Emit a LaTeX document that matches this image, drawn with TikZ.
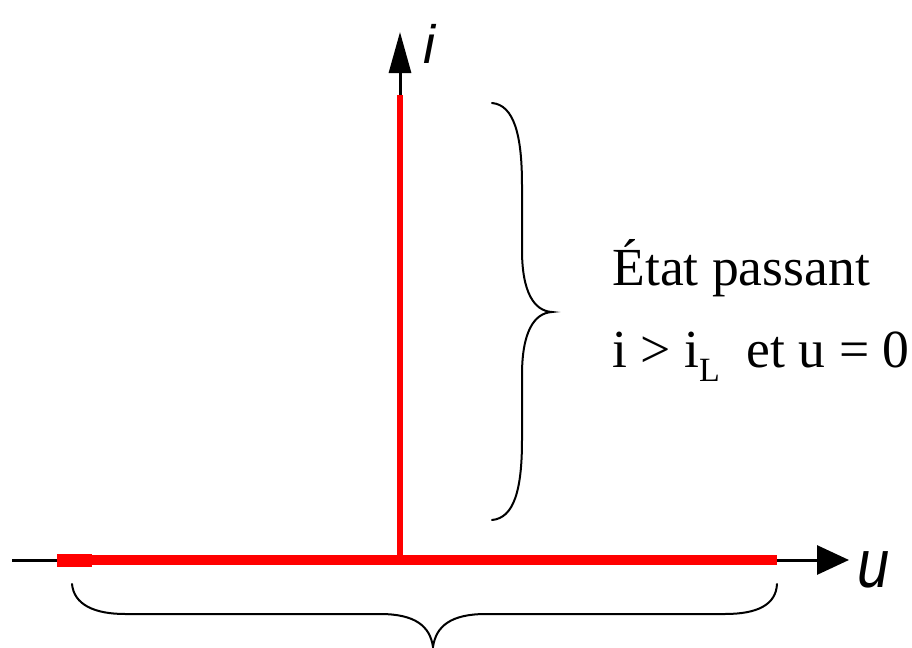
\documentclass[tikz,border=0pt]{standalone}
\usepackage{fontspec}
\setmainfont{Liberation Serif}
\newfontfamily\axisfont{Liberation Sans}
\usetikzlibrary{arrows.meta}
\definecolor{redline}{RGB}{255,0,0}
\tikzset{
  axisline/.style={line width=1.5pt, black},
  redtrace/.style={line width=#1, redline},
  bracepath/.style={line width=1pt, black, line cap=round},
  lbl/.style={inner sep=0pt, anchor=base west, font=\fontsize{26.8}{30}\selectfont}
}
\begin{document}
\begin{tikzpicture}[x=0.5pt,y=-0.5pt]
\useasboundingbox (0,0) rectangle (912,648);
% axis endpoints
\coordinate (hstart) at (12,560);
\coordinate (htip) at (849,560);
\coordinate (origin) at (400,560);
\coordinate (vtip) at (400,32);
% axes
\draw[axisline, -{Triangle[length=16pt,width=14.5pt]}] (hstart) -- (htip);
\draw[axisline, -{Triangle[length=20.5pt,width=11pt]}] (origin) -- (vtip);
% red traces
\coordinate (rl) at (57,560);
\coordinate (rlk) at (92,560);
\coordinate (rr) at (777,560);
\coordinate (rtop) at (400,95);
\coordinate (rbot) at (400,556);
\draw[redtrace=5pt] (rl) -- (rr);
\draw[redtrace=6.5pt] (rl) -- (rlk);
\draw[redtrace=2.6pt] (rbot) -- (rtop);
% axis labels
\node[inner sep=0pt, font=\axisfont\itshape\fontsize{27}{30}\selectfont] (ilbl) at (429,44) {i};
\node[inner sep=0pt, font=\axisfont\itshape\fontsize{34}{36}\selectfont, xscale=0.85] (ulbl) at (874,570) {u};
% right brace
\draw[bracepath] (492,103) .. controls (514,105) and (522,135) .. (522,185)
  -- (522,250) .. controls (522,292) and (534,311) .. (552,312)
  .. controls (534,313) and (522,332) .. (522,375)
  -- (522,440) .. controls (522,490) and (514,518) .. (492,520);
% bottom brace
\draw[bracepath] (72,584) .. controls (74,605) and (95,614) .. (125,614)
  -- (380,614) .. controls (415,614) and (430,626) .. (433,647)
  .. controls (436,626) and (451,614) .. (486,614)
  -- (725,614) .. controls (757,614) and (776,605) .. (777,584);
% text
\node[lbl] (etat) at (612,285) {État passant};
\node[lbl] (cond) at (612,367) {i > i\raisebox{-7pt}{\fontsize{17}{17}\selectfont L}\ \ et u = 0};
\end{tikzpicture}
\end{document}
